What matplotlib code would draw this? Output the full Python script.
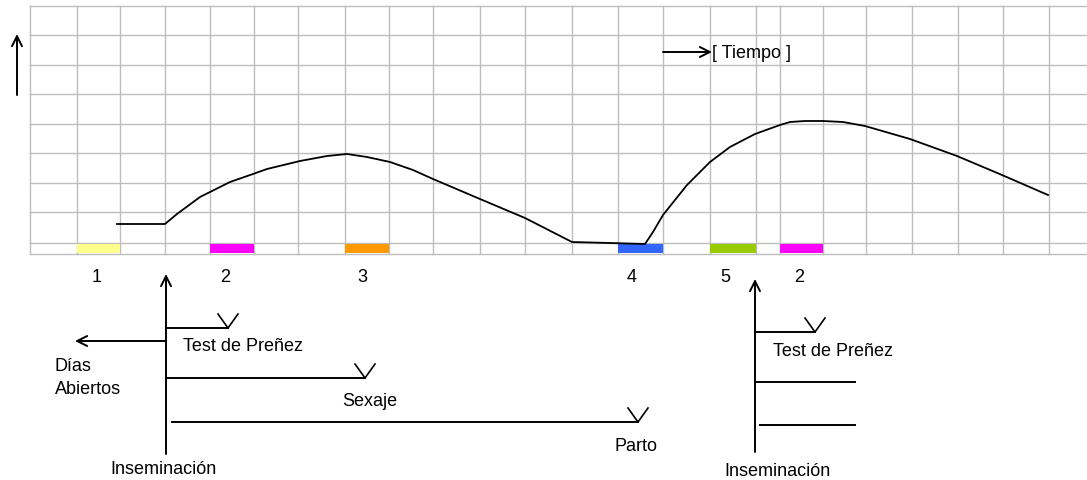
import matplotlib
matplotlib.use("Agg")
import matplotlib.pyplot as plt

# ---------------- data (pixel-space diagram coordinates) ----------------
grid_x = [30, 77, 120, 165, 210, 254, 298, 345, 389, 433, 480, 525, 572, 618,
          663, 710, 756, 780, 823, 866, 912, 958, 1003, 1049]
grid_y = [7, 36, 66, 95, 125, 154, 184, 213, 244, 255]

curve_x = [117, 165, 177, 200, 230, 253, 267, 300, 327, 347, 367, 390, 413, 433,
           480, 525, 572, 610, 645, 653, 663, 687, 710, 730, 755, 780,
           790, 805, 823, 843, 865, 910, 957, 1002, 1048]
curve_y = [225, 225, 215, 198, 183, 175, 170, 162, 157, 155, 158, 163, 171, 180,
           200, 219, 243, 244, 245, 233, 216, 186, 163, 148, 135, 126,
           123, 122, 122, 123, 127, 140, 157, 176, 196]

bar_left = [77, 210, 345, 618, 710, 780]
bar_right = [120, 254, 389, 663, 756, 823]
bar_colors = ["#FFFF8C", "#FF00FF", "#FF9900", "#3366FF", "#99CC00", "#FF00FF"]
phase_labels = ["1", "2", "3", "4", "5", "2"]
phase_label_x = [97, 225, 362, 632, 725, 799]

# ---------------- figure ----------------
W, H = 1087, 481
fig = plt.figure(figsize=(W / 100, H / 100), dpi=100)
ax = fig.add_axes([0, 0, 1, 1])
ax.set_xlim(0, W)
ax.set_ylim(H, 0)
ax.axis("off")

FONT = "Liberation Sans"
FS = 13
gc = "#BDBDBD"

for x in grid_x:
    ax.plot([x, x], [grid_y[0], grid_y[-1]], color=gc, lw=1.0, zorder=1)
for y in grid_y:
    ax.plot([grid_x[0], W], [y, y], color=gc, lw=1.0, zorder=1)

for l, r, c in zip(bar_left, bar_right, bar_colors):
    ax.fill_between([l, r], 244.5, 254, color=c, lw=0, zorder=2)

ax.plot(curve_x, curve_y, color="black", lw=1.3, zorder=3)

for t, x in zip(phase_labels, phase_label_x):
    ax.text(x, 278, t, fontsize=FS, family=FONT, ha="center", va="center")

arrow = dict(arrowstyle="->", color="black", lw=1.4, mutation_scale=18,
             shrinkA=0, shrinkB=0)

# vertical axis arrow (top-left)
ax.annotate("", xy=(17, 35), xytext=(17, 96), arrowprops=arrow)
# time arrow
ax.annotate("", xy=(712, 53), xytext=(663, 53), arrowprops=arrow)
ax.text(712, 53, "[ Tiempo ]", fontsize=FS, family=FONT, ha="left", va="center")


def vmark(ax, x, y):
    ax.plot([x - 10, x, x + 10], [y - 14, y, y - 14], color="black", lw=1.2)


# ---- left timeline ----
ax.annotate("", xy=(166, 275), xytext=(166, 455), arrowprops=arrow)
ax.plot([166, 228], [329, 329], color="black", lw=1.4)
vmark(ax, 228, 329)
ax.text(183, 347, "Test de Preñez", fontsize=FS, family=FONT, ha="left", va="center")
ax.annotate("", xy=(75, 342), xytext=(166, 342), arrowprops=arrow)
ax.text(55, 367, "Días", fontsize=FS, family=FONT, ha="left", va="center")
ax.text(55, 390, "Abiertos", fontsize=FS, family=FONT, ha="left", va="center")
ax.plot([166, 365], [379, 379], color="black", lw=1.4)
vmark(ax, 365, 379)
ax.text(370, 402, "Sexaje", fontsize=FS, family=FONT, ha="center", va="center")
ax.plot([172, 638], [423, 423], color="black", lw=1.4)
vmark(ax, 638, 423)
ax.text(636, 447, "Parto", fontsize=FS, family=FONT, ha="center", va="center")
ax.text(163, 470, "Inseminación", fontsize=FS, family=FONT, ha="center", va="center")

# ---- right timeline ----
ax.annotate("", xy=(755, 280), xytext=(755, 453), arrowprops=arrow)
ax.plot([755, 815], [333, 333], color="black", lw=1.4)
vmark(ax, 815, 333)
ax.text(773, 352, "Test de Preñez", fontsize=FS, family=FONT, ha="left", va="center")
ax.plot([755, 855], [383, 383], color="black", lw=1.4)
ax.plot([760, 855], [426, 426], color="black", lw=1.4)
ax.text(778, 472, "Inseminación", fontsize=FS, family=FONT, ha="center", va="center")

fig.savefig("out.png", dpi=100, facecolor="white")
